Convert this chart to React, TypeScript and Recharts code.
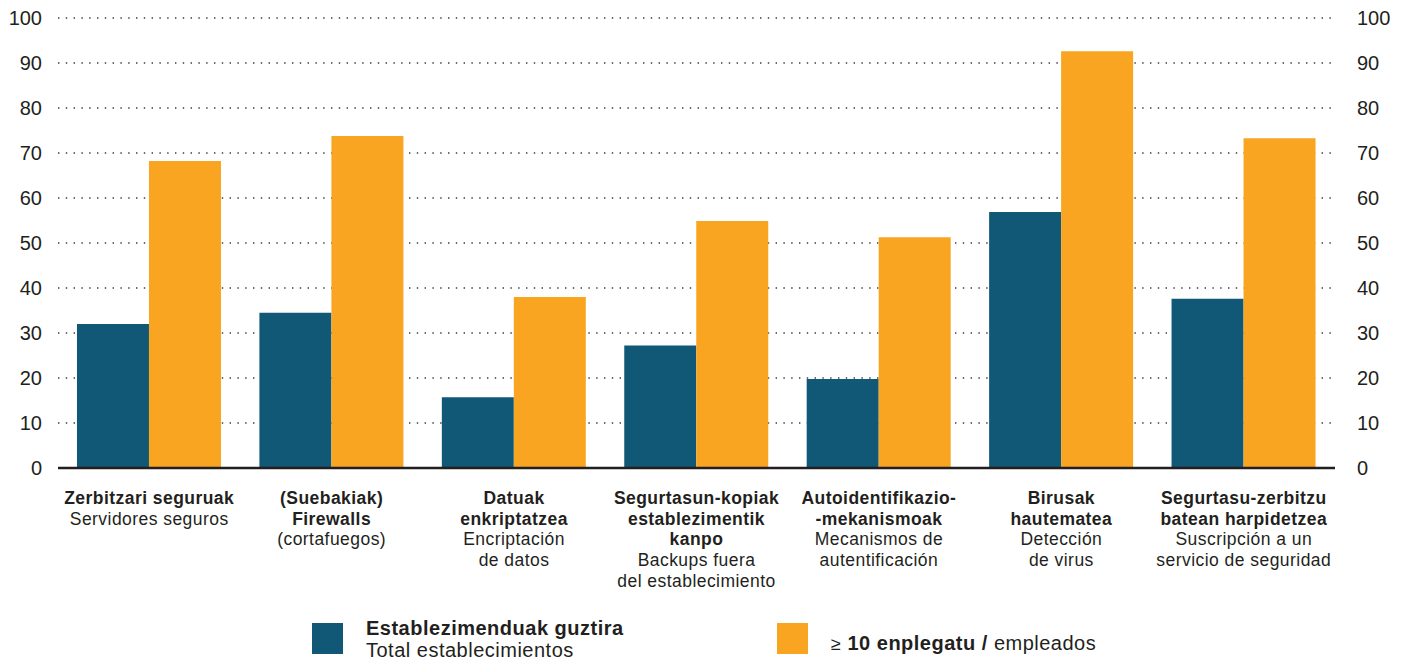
import React from 'react';
import { BarChart, Bar, XAxis, YAxis, CartesianGrid, Legend } from 'recharts';

const categoryKeys = ['c1', 'c2', 'c3', 'c4', 'c5', 'c6', 'c7'];
const categoryBold: string[][] = [
  ['Zerbitzari seguruak'],
  ['(Suebakiak)', 'Firewalls'],
  ['Datuak', 'enkriptatzea'],
  ['Segurtasun-kopiak', 'establezimentik', 'kanpo'],
  ['Autoidentifikazio-', '-mekanismoak'],
  ['Birusak', 'hautematea'],
  ['Segurtasu-zerbitzu', 'batean harpidetzea'],
];
const categoryNormal: string[][] = [
  ['Servidores seguros'],
  ['(cortafuegos)'],
  ['Encriptación', 'de datos'],
  ['Backups fuera', 'del establecimiento'],
  ['Mecanismos de', 'autentificación'],
  ['Detección', 'de virus'],
  ['Suscripción a un', 'servicio de seguridad'],
];
const totalValues = [32.0, 34.5, 15.7, 27.2, 19.8, 56.9, 37.6];
const largeValues = [68.2, 73.8, 38.0, 54.9, 51.3, 92.6, 73.3];
const yTicks = [0, 10, 20, 30, 40, 50, 60, 70, 80, 90, 100];

const legendTotalBold = 'Establezimenduak guztira';
const legendTotalNormal = 'Total establecimientos';
const legendLargeSymbol = '≥';
const legendLargeBold = '10 enplegatu /';
const legendLargeNormal = 'empleados';

const BLUE = '#115776';
const ORANGE = '#F9A521';
const TEXT = '#231f20';
const FONT = '"Liberation Sans", Arial, Helvetica, sans-serif';

const data = categoryKeys.map((k, i) => ({
  key: k,
  total: totalValues[i],
  large: largeValues[i],
}));

const XTick = (props: any) => {
  const { x, y, payload } = props;
  const i = payload.index;
  const lines = [
    ...categoryBold[i].map((t) => ({ t, b: true })),
    ...categoryNormal[i].map((t) => ({ t, b: false })),
  ];
  return (
    <text
      x={x}
      y={y}
      textAnchor="middle"
      fontFamily={FONT}
      fontSize={17.5}
      letterSpacing={0.45}
      fill={TEXT}
    >
      {lines.map((l, j) => (
        <tspan
          key={j}
          x={x}
          dy={j === 0 ? 36 : 20.7}
          fontWeight={l.b ? 'bold' : 'normal'}
        >
          {l.t}
        </tspan>
      ))}
    </text>
  );
};

const LegendContent = () => (
  <div
    style={{
      position: 'relative',
      width: 1409,
      height: 60,
      fontFamily: FONT,
      color: TEXT,
      letterSpacing: 0.5,
    }}
  >
    <div style={{ position: 'absolute', left: 312, top: 22, width: 31, height: 31, background: BLUE }} />
    <div style={{ position: 'absolute', left: 366, top: 16, fontSize: 20, lineHeight: '22px', whiteSpace: 'nowrap' }}>
      <span style={{ fontWeight: 'bold' }}>{legendTotalBold}</span>
      <br />
      <span>{legendTotalNormal}</span>
    </div>
    <div style={{ position: 'absolute', left: 777, top: 22, width: 31, height: 31, background: ORANGE }} />
    <div style={{ position: 'absolute', left: 831, top: 31, fontSize: 20, lineHeight: '22px', whiteSpace: 'nowrap' }}>
      <span style={{ fontSize: 18, fontWeight: 300 }}>{legendLargeSymbol}</span>{' '}
      <span style={{ fontWeight: 'bold' }}>{legendLargeBold}</span>{' '}
      <span>{legendLargeNormal}</span>
    </div>
  </div>
);

export default function App() {
  return (
    <div style={{ position: 'absolute', left: 0, top: 0, width: 1409, height: 661, background: '#fff' }}>
      <BarChart
        width={1409}
        height={661}
        data={data}
        margin={{ top: 18, right: 0, bottom: 0, left: 0 }}
        barCategoryGap="10.4%"
        barGap={0}
      >
        <CartesianGrid
          yAxisId="left"
          vertical={false}
          stroke="#3a3a3a"
          strokeWidth={1.4}
          strokeDasharray="1.4 6.4"
        />
        <XAxis
          dataKey="key"
          height={133}
          interval={0}
          tickLine={false}
          tickSize={0}
          tickMargin={0}
          axisLine={{ stroke: TEXT, strokeWidth: 2.6 }}
          tick={<XTick />}
        />
        <YAxis
          yAxisId="left"
          width={58}
          domain={[0, 100]}
          ticks={yTicks}
          axisLine={false}
          tickLine={false}
          tickSize={0}
          tickMargin={16}
          tick={{ fill: TEXT, fontSize: 20, fontFamily: FONT }}
        />
        <YAxis
          yAxisId="right"
          orientation="right"
          width={74}
          domain={[0, 100]}
          ticks={yTicks}
          axisLine={false}
          tickLine={false}
          tickSize={0}
          tickMargin={22}
          tick={{ fill: TEXT, fontSize: 20, fontFamily: FONT }}
        />
        <Legend verticalAlign="bottom" height={60} content={<LegendContent />} />
        <Bar yAxisId="left" dataKey="total" fill={BLUE} isAnimationActive={false} />
        <Bar yAxisId="right" dataKey="large" fill={ORANGE} isAnimationActive={false} />
      </BarChart>
    </div>
  );
}
